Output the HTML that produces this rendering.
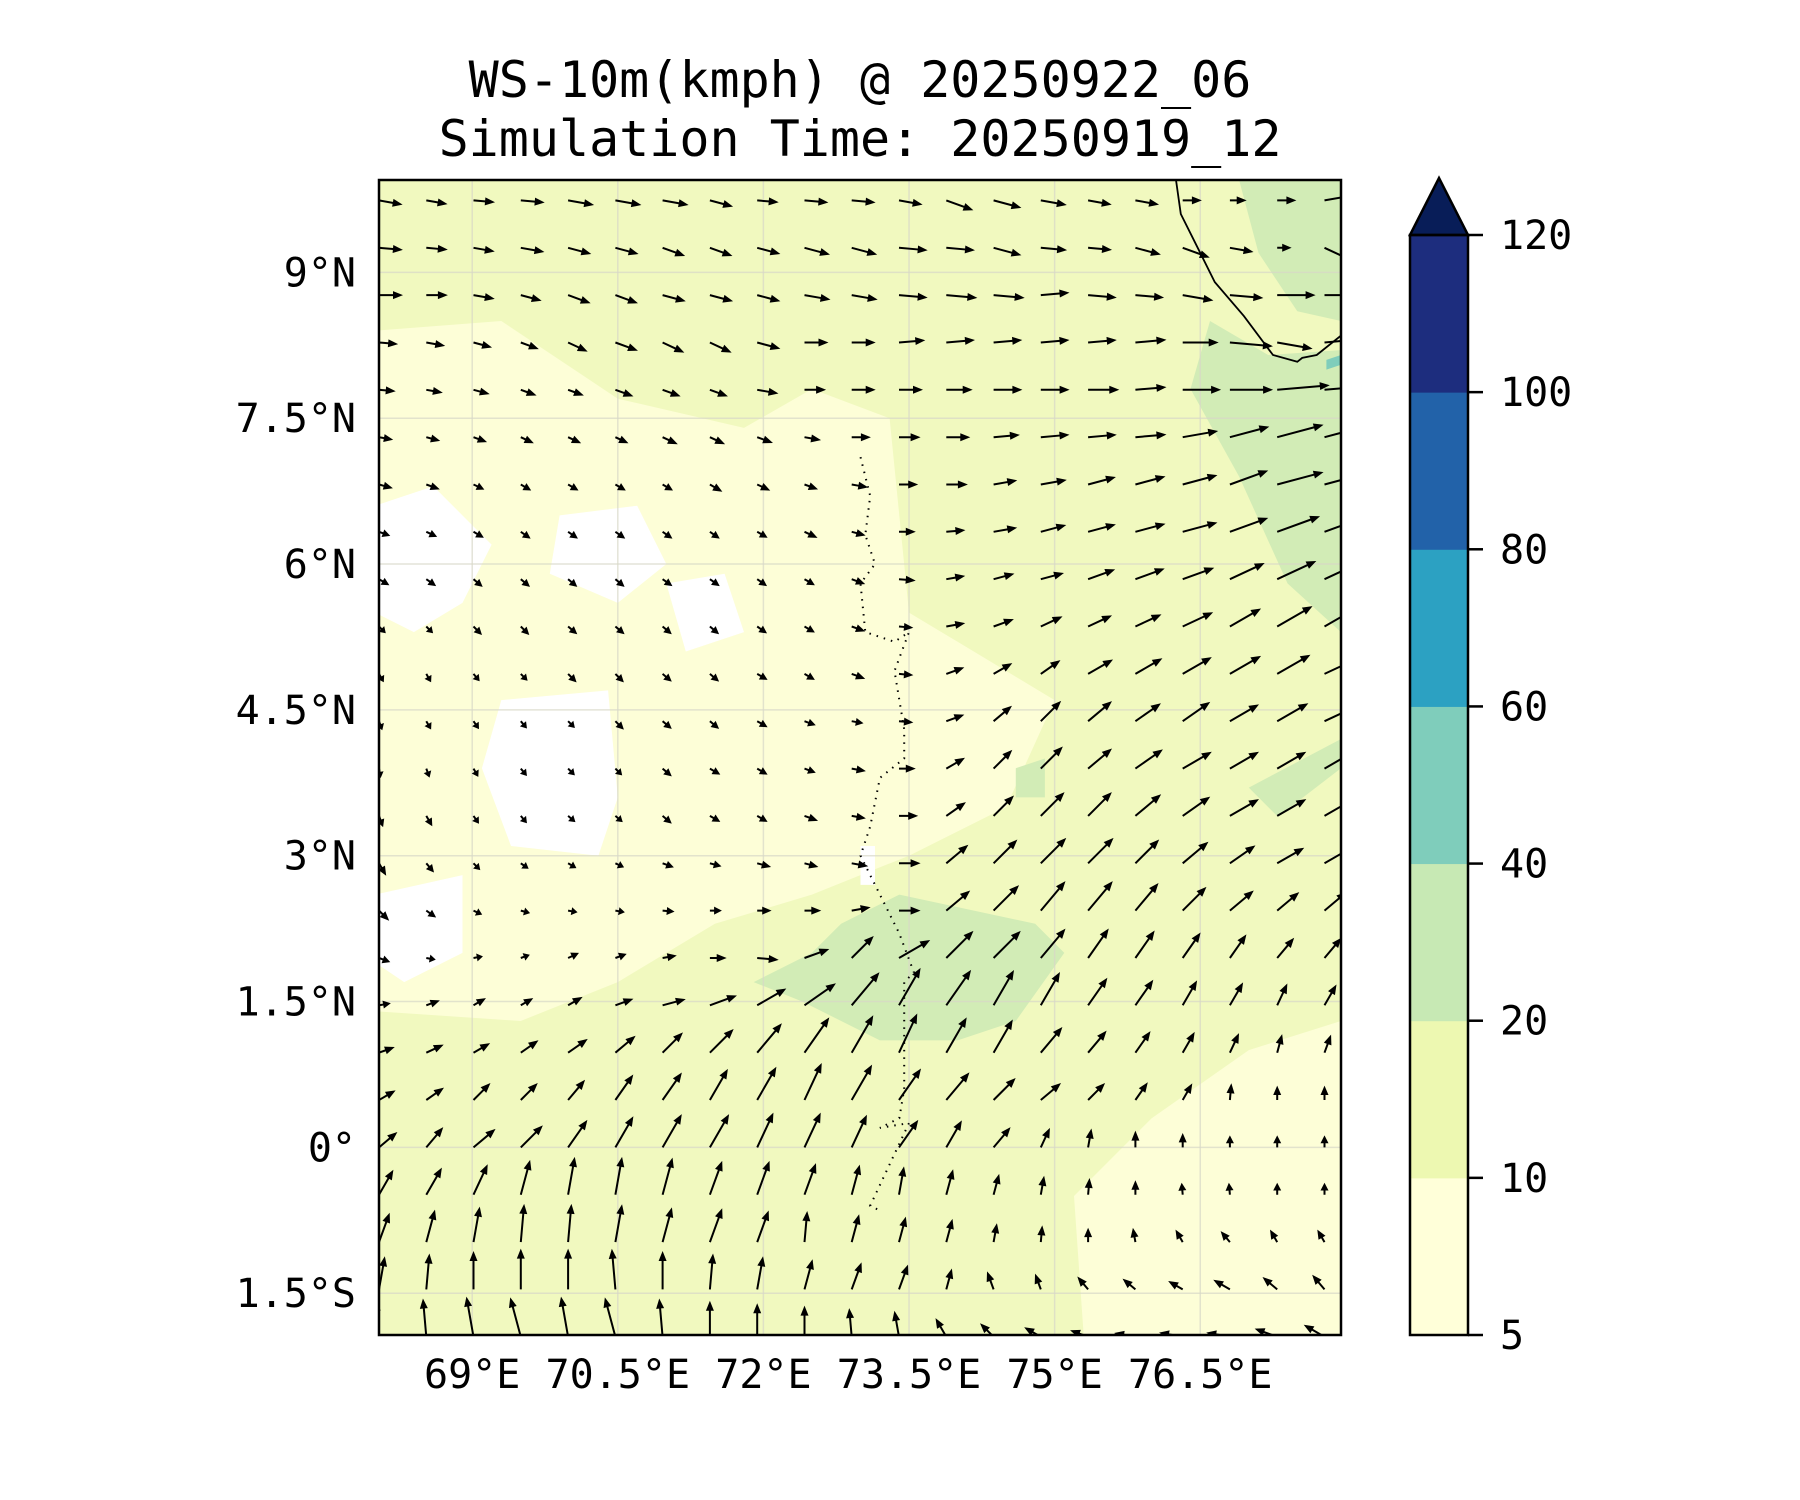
<!DOCTYPE html>
<html><head><meta charset="utf-8">
<style>
html,body{margin:0;padding:0;background:#fff;}
svg{display:block;font-family:"DejaVu Sans Mono","Liberation Mono",monospace;}
</style></head>
<body>
<svg id="chart" width="1800" height="1500" viewBox="0 0 1800 1500" xmlns="http://www.w3.org/2000/svg">
<text x="860" y="97" font-size="50" text-anchor="middle">WS-10m(kmph) @ 20250922_06</text>
<text x="860" y="156" font-size="50" text-anchor="middle">Simulation Time: 20250919_12</text>
<defs><clipPath id="plotclip"><rect x="379" y="180" width="962" height="1155"/></clipPath></defs>
<g id="map" clip-path="url(#plotclip)"></g>
<rect x="379" y="180" width="962" height="1155" fill="none" stroke="#000" stroke-width="2.5"/>
<g id="axes"></g>
<g id="cbar"></g>
</svg>
<script>
const lonTicks=[69,70.5,72,73.5,75,76.5];
const lonLabels=["69°E","70.5°E","72°E","73.5°E","75°E","76.5°E"];
const latTicks=[9,7.5,6,4.5,3,1.5,0,-1.5];
const latLabels=["9°N","7.5°N","6°N","4.5°N","3°N","1.5°N","0°","1.5°S"];
const cbarLevels=[5,10,20,40,60,80,100,120];
const cbarColors=["#ffffd9","#edf8b1","#c7e9b4","#7fcdbb","#2ca1c2","#2262a9","#1d2d7e"];
const cbarExtendColor="#081d58";
const gridLon0=68.04, gridLat0=9.74, gridStep=0.487;
const windAngle=[
[-10,-10,-5,-5,-10,-10,-10,-15,-5,-5,-5,-10,-20,-15,-10,-10,-10,0,0,0,10],
[-5,-5,-10,-10,-15,-15,-20,-20,-15,-15,-15,-5,-5,-15,-5,-5,-15,-20,-10,0,-25],
[0,0,-10,-15,-20,-20,-15,-15,-15,-10,-10,-5,-5,-5,5,-5,-5,-10,-5,0,0],
[-5,-10,-15,-20,-25,-20,-25,-25,-15,0,0,5,5,5,5,5,5,0,-5,-10,5],
[-5,-10,-15,-20,-20,-20,-20,-20,-10,0,0,0,0,0,0,0,5,0,0,5,5],
[-10,-15,-20,-25,-25,-25,-25,-25,-20,-10,0,0,0,5,5,5,5,10,15,15,15],
[-15,-20,-25,-30,-30,-30,-30,-30,-25,-20,-10,0,0,10,10,15,15,15,20,15,15],
[-20,-25,-30,-35,-35,-35,-35,-35,-30,-25,-15,0,5,10,15,15,15,15,20,20,20],
[-30,-35,-40,-40,-40,-40,-35,-35,-35,-30,-20,-5,10,15,15,20,20,20,25,25,25],
[-45,-45,-45,-45,-40,-40,-40,-40,-35,-30,-20,-5,10,20,25,25,25,25,30,30,30],
[-60,-60,-50,-45,-45,-45,-40,-40,-30,-30,-20,-5,20,30,35,30,30,30,30,30,25],
[-70,-60,-55,-50,-45,-45,-40,-40,-30,-20,-10,-5,20,40,45,40,35,35,30,30,25],
[-80,-70,-60,-50,-45,-45,-40,-30,-30,-20,-10,0,30,45,45,40,35,30,30,30,30],
[-70,-60,-55,-50,-40,-40,-40,-30,-30,-20,-10,0,35,45,45,45,40,35,30,30,30],
[-60,-50,-45,-35,-30,-25,-20,-15,-15,-15,-10,0,40,45,45,45,45,40,35,30,30],
[-45,-35,-25,-15,-10,-10,-5,0,0,0,10,0,40,45,50,50,50,45,40,40,40],
[-20,-10,10,20,25,20,10,0,-5,20,45,30,45,45,50,55,55,55,55,50,50],
[10,20,30,30,30,20,15,20,30,35,50,60,55,60,60,55,55,60,60,65,60],
[20,25,30,35,35,40,45,45,50,55,60,65,60,60,50,50,55,60,65,75,70],
[30,35,45,45,50,55,55,60,60,65,60,55,50,45,40,45,55,60,85,90,90],
[40,50,40,45,55,60,60,60,65,65,65,55,60,50,65,80,90,90,90,90,90],
[60,60,65,75,80,80,75,70,70,70,75,80,75,75,80,85,90,95,95,90,90],
[70,75,80,85,85,80,75,70,70,85,75,75,75,80,85,90,100,120,130,120,120],
[80,85,90,90,90,95,90,85,80,75,70,70,75,110,110,130,140,150,150,140,130],
[95,95,100,105,100,105,95,90,90,90,95,100,120,135,150,160,170,170,170,160,150]];
const windSpeed=[
[10,9,9,10,11,11,11,10,9,10,10,10,12,12,11,10,10,8,7,8,18],
[10,9,9,10,10,10,10,10,10,11,11,12,12,12,11,10,11,12,10,6,22],
[10,9,9,9,10,10,10,10,10,11,11,12,13,13,12,12,12,13,14,16,25],
[8,8,8,8,9,10,10,10,10,10,10,11,12,12,12,12,13,15,18,15,12],
[7,7,7,7,7,8,8,8,9,9,10,10,11,12,12,13,13,16,18,22,23],
[6,6,6,6,6,6,7,7,7,7,8,9,10,11,12,12,13,15,17,20,22],
[6,6,5,5,5,5,5,6,6,6,7,8,9,10,11,12,13,15,17,20,22],
[5,5,5,5,5,5,5,5,5,6,6,7,8,10,11,12,13,15,17,19,21],
[5,5,5,5,5,5,5,5,5,5,6,7,8,9,10,12,13,14,16,18,20],
[4,4,5,5,5,5,5,5,5,5,6,6,8,9,10,11,12,14,15,17,18],
[4,4,4,4,5,5,5,5,5,5,6,6,8,9,10,12,13,14,15,16,16],
[4,4,4,4,4,5,5,5,5,5,5,6,8,10,12,13,13,14,14,15,15],
[4,4,4,4,4,4,5,5,5,5,6,7,9,11,13,13,14,14,14,14,14],
[5,5,4,4,4,4,5,5,5,6,6,8,10,12,14,14,14,14,14,14,14],
[6,5,4,4,4,4,5,5,6,6,7,9,12,14,15,15,14,14,13,13,13],
[6,5,4,4,4,4,5,5,6,7,8,9,13,15,16,16,15,14,13,12,12],
[5,4,4,4,5,5,6,7,9,11,13,15,16,16,16,15,14,13,12,11,11],
[5,6,6,6,7,8,10,12,14,16,18,18,18,17,16,14,13,12,11,10,10],
[7,8,8,9,10,11,12,14,16,18,18,18,17,16,14,12,11,10,9,8,8],
[8,9,10,10,11,13,14,15,16,17,17,16,15,13,11,10,9,8,7,6,6],
[10,11,12,13,14,15,16,16,16,16,15,14,13,11,9,8,7,6,5,5,5],
[12,13,14,15,16,16,16,15,15,14,13,12,11,9,8,7,6,5,5,5,5],
[13,14,15,16,16,16,15,15,14,13,12,11,10,8,7,6,6,6,6,6,6],
[14,15,16,17,17,17,16,15,14,13,12,11,9,8,7,7,7,7,8,8,8],
[15,16,17,17,17,17,16,15,14,13,12,11,9,8,8,8,9,10,10,10,10]];
const lightArea=[[68.0,8.4],[69.3,8.5],[70.5,7.7],[71.8,7.4],[72.5,7.8],[73.3,7.5],[73.5,5.5],[74,5.2],[75,4.6],[74.5,3.5],[73.5,3.0],[72.5,2.6],[71.5,2.3],[70.5,1.7],[69.5,1.3],[68.0,1.4]];
const lightArea2=[[75.3,-1.95],[75.2,-0.5],[76,0.3],[77,1.0],[77.95,1.3],[77.95,-1.95]];
const whiteAreas=[
[[68.0,6.6],[68.6,6.8],[69.2,6.2],[68.9,5.6],[68.4,5.3],[68.0,5.5]],
[[69.9,6.5],[70.7,6.6],[71.0,6.0],[70.5,5.6],[69.8,5.9]],
[[69.3,4.6],[70.4,4.7],[70.5,3.6],[70.3,3.0],[69.4,3.1],[69.1,3.9]],
[[68.0,2.6],[68.9,2.8],[68.9,2.0],[68.3,1.7],[68.0,1.9]],
[[71.0,5.8],[71.6,5.9],[71.8,5.3],[71.2,5.1]],
[[77.5,9.9],[77.95,9.9],[77.95,9.3],[77.6,9.5]],
[[73.0,3.1],[73.15,3.1],[73.15,2.7],[73.0,2.7]]];
const greenAreas=[
[[76.6,8.5],[77.2,8.15],[77.95,8.2],[77.95,5.3],[77.4,5.8],[76.9,6.9],[76.4,7.8]],
[[76.9,9.95],[77.95,9.95],[77.95,8.5],[77.5,8.6],[77.1,9.2]],
[[72.8,2.3],[73.4,2.6],[74.8,2.3],[75.1,2.0],[74.6,1.3],[74,1.1],[73.2,1.1],[72.4,1.5],[71.9,1.7],[72.5,2.0]],
[[77.0,3.7],[77.95,4.2],[77.95,3.9],[77.3,3.4]],
[[74.6,3.9],[74.9,4.0],[74.9,3.6],[74.6,3.6]]];
const tealArea=[[77.8,8.0],[77.95,8.05],[77.95,8.15],[77.8,8.1]];
const coastLine=[[76.25,9.95],[76.3,9.6],[76.45,9.3],[76.65,8.9],[76.95,8.55],[77.25,8.15],[77.5,8.08],[77.55,8.12],[77.7,8.15],[77.95,8.35]];
const maldives=[[73.0,7.1],[73.1,6.7],[73.05,6.3],[73.15,6.0],[73.0,5.8],[73.05,5.3],[73.35,5.2],[73.5,5.3],[73.35,4.9],[73.45,4.3],[73.45,4.0],[73.2,3.8],[73.1,3.3],[73.0,3.0],[73.2,2.6],[73.4,2.2],[73.55,1.8],[73.45,1.7],[73.45,0.6],[73.4,0.3],[73.2,0.2],[73.5,0.25],[73.1,-0.6],[73.2,-0.65]];

const NS='http://www.w3.org/2000/svg';
const X0=379,X1=1341,Y0=180,Y1=1335,LON0=68.04,LON1=77.95,LAT0=9.95,LAT1=-1.93;
function xs(lon){return X0+(lon-LON0)/(LON1-LON0)*(X1-X0);}
function ys(lat){return Y0+(LAT0-lat)/(LAT0-LAT1)*(Y1-Y0);}
function mk(tag,attrs,parent){const e=document.createElementNS(NS,tag);for(const k in attrs)e.setAttribute(k,attrs[k]);parent.appendChild(e);return e;}
function pts(arr){return arr.map(p=>xs(p[0]).toFixed(1)+','+ys(p[1]).toFixed(1)).join(' ');}
const map=document.getElementById('map');
let e=mk('rect',{x:X0,y:Y0,width:X1-X0,height:Y1-Y0,fill:'#f1f9bf'},map);


e=mk('polygon',{points:pts(lightArea),fill:'#fdfed7'},map);


e=mk('polygon',{points:pts(lightArea2),fill:'#fdfed7'},map);


whiteAreas.forEach(a=>{const w=mk('polygon',{points:pts(a),fill:'#ffffff'},map);

});
greenAreas.forEach(a=>{const g=mk('polygon',{points:pts(a),fill:'#d2ecb6'},map);

});
e=mk('polygon',{points:pts(tealArea),fill:'#7fcdbb'},map);


lonTicks.forEach(v=>{const l=mk('line',{x1:xs(v),x2:xs(v),y1:Y0,y2:Y1,stroke:'#d8d8c8','stroke-width':1.5,opacity:0.7},map);

});
latTicks.forEach(v=>{const l=mk('line',{x1:X0,x2:X1,y1:ys(v),y2:ys(v),stroke:'#d8d8c8','stroke-width':1.5,opacity:0.7},map);

});
e=mk('polyline',{points:pts(coastLine),fill:'none',stroke:'#000','stroke-width':1.8},map);


e=mk('polyline',{points:pts(maldives),fill:'none',stroke:'#000','stroke-width':2,'stroke-dasharray':'1.5 6'},map);


const SCALE=2.4;
windAngle.forEach((row,r)=>row.forEach((ang,c)=>{
  const lon=gridLon0+c*gridStep, lat=gridLat0-r*gridStep;
  const x=xs(lon), y=ys(lat), L=windSpeed[r][c]*SCALE;
  const g=mk('g',{transform:`translate(${x.toFixed(1)},${y.toFixed(1)}) rotate(${(-ang).toFixed(1)})`},map);
  
  
  const hl=Math.min(10,L*0.65), hw=4;
  mk('path',{d:`M0,-1 L${(L-hl).toFixed(1)},-1 L${(L-hl).toFixed(1)},-${hw} L${L.toFixed(1)},0 L${(L-hl).toFixed(1)},${hw} L${(L-hl).toFixed(1)},1 L0,1Z`,fill:'#000'},g);
}));
const ax=document.getElementById('axes');
lonTicks.forEach((v,i)=>{const t=mk('text',{x:xs(v),y:1388,'font-size':40,'text-anchor':'middle'},ax);t.textContent=lonLabels[i];

});
latTicks.forEach((v,i)=>{const t=mk('text',{x:356,y:ys(v)+14,'font-size':40,'text-anchor':'end'},ax);t.textContent=latLabels[i];

});
const cb=document.getElementById('cbar');
const CX0=1410,CX1=1468,CT=235,CB=1335,TIP=178;
const n=cbarLevels.length-1, seg=(CB-CT)/n;
function cy(i){return CB-i*seg;}
cbarColors.forEach((col,i)=>{const r=mk('rect',{x:CX0,y:cy(i+1),width:CX1-CX0,height:seg+0.5,fill:col},cb);

});
e=mk('polygon',{points:`${CX0},${CT} ${(CX0+CX1)/2},${TIP} ${CX1},${CT}`,fill:cbarExtendColor,stroke:'#000','stroke-width':2.5},cb);


e=mk('rect',{x:CX0,y:CT,width:CX1-CX0,height:CB-CT,fill:'none',stroke:'#000','stroke-width':2.5},cb);


cbarLevels.forEach((v,i)=>{
  const l=mk('line',{x1:CX1,x2:CX1+15,y1:cy(i),y2:cy(i),stroke:'#000','stroke-width':2.5},cb);
  
  
  const t=mk('text',{x:1500,y:cy(i)+14,'font-size':40},cb);t.textContent=v;
  
  
});
</script>
</body></html>
